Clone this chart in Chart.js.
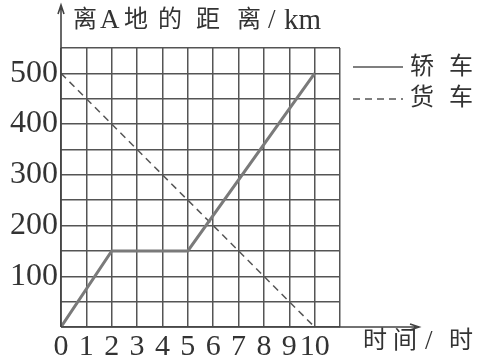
<!DOCTYPE html>
<html>
<head>
<meta charset="utf-8">
<script src="https://cdn.jsdelivr.net/npm/chart.js@4"></script>
<style>
  body { margin: 0; background: #fff; }
</style>
</head>
<body>
<canvas id="chart" width="484" height="363"></canvas>
<script>
// 轿车 / 货车 离A地的距离

// 轿车: 时间(时), 距离(km)
const carTime = [0, 2, 5, 10];
const carDist = [0, 150, 150, 500];
// 货车
const truckTime = [0, 10];
const truckDist = [500, 0];

const yTitle = ['离', 'A', '地', '的', '距', '离', '/', 'km'];
const xTitle = ['时', '间', '/', '时'];
const legendNames = [['轿', '车'], ['货', '车']];

const serif = '"Liberation Serif", "Noto Sans CJK SC", serif';

const toPoints = (xs, ys) => xs.map((x, i) => ({ x: x, y: ys[i] }));

// 坐标轴箭头, 标题, 图例
const decor = {
  id: 'decor',
  afterDraw(chart) {
    const ctx = chart.ctx;
    const a = chart.chartArea;
    ctx.save();
    ctx.strokeStyle = '#444';
    ctx.lineWidth = 1.6;
    // y轴
    ctx.beginPath();
    ctx.moveTo(a.left, a.bottom);
    ctx.lineTo(a.left, 5);
    ctx.moveTo(a.left - 3, 14);
    ctx.lineTo(a.left, 5);
    ctx.lineTo(a.left + 3, 14);
    // x轴
    ctx.moveTo(a.left, a.bottom);
    ctx.lineTo(419, a.bottom);
    ctx.moveTo(410, a.bottom - 3);
    ctx.lineTo(419, a.bottom);
    ctx.lineTo(410, a.bottom + 3);
    ctx.stroke();

    ctx.fillStyle = '#333';
    ctx.textBaseline = 'middle';
    ctx.font = '24px ' + serif;
    // 字的位置 (逐字排)
    const yTitleX = [73, 100, 124, 158, 196, 237, 268, 284];
    yTitle.forEach((t, i) => {
      ctx.font = (t === 'km' ? '29px ' : t === 'A' || t === '/' ? '27px ' : '24px ') + serif;
      ctx.fillText(t, yTitleX[i], 21);
    });
    const xTitleX = [363, 393, 425, 449];
    xTitle.forEach((t, i) => {
      ctx.font = (t === '/' ? '27px ' : '24px ') + serif;
      ctx.fillText(t, xTitleX[i], 342);
    });

    // 图例
    ctx.font = '24px ' + serif;
    legendNames.forEach((n, i) => {
      ctx.fillText(n[0], 410, 68 + i * 31);
      ctx.fillText(n[1], 449, 68 + i * 31);
    });
    ctx.strokeStyle = '#555';
    ctx.lineWidth = 1.6;
    ctx.beginPath();
    ctx.moveTo(353, 67);
    ctx.lineTo(403, 67);
    ctx.stroke();
    ctx.setLineDash([7, 5]);
    ctx.beginPath();
    ctx.moveTo(353, 99);
    ctx.lineTo(403, 99);
    ctx.stroke();
    ctx.restore();
  },
};

new Chart(document.querySelector('#chart'), {
  type: 'line',
  data: {
    datasets: [
      {
        label: '轿车',
        data: toPoints(carTime, carDist),
        borderColor: '#7a7a7a',
        borderWidth: 3,
        pointRadius: 0,
        tension: 0,
      },
      {
        label: '货车',
        data: toPoints(truckTime, truckDist),
        borderColor: '#555',
        borderWidth: 1.5,
        borderDash: [7, 5],
        pointRadius: 0,
        tension: 0,
      },
    ],
  },
  options: {
    responsive: false,
    animation: false,
    events: [],
    layout: { padding: { top: 48, right: 144, left: 0, bottom: 0 } },
    plugins: {
      legend: { display: false },
      tooltip: { enabled: false },
    },
    scales: {
      x: {
        type: 'linear',
        min: 0,
        max: 11,
        border: { display: false },
        grid: { color: '#555', lineWidth: 1.5, drawTicks: false },
        ticks: {
          stepSize: 1,
          padding: 2,
          maxRotation: 0,
          autoSkip: false,
          color: '#333',
          font: { family: serif, size: 30 },
          callback: (v) => (v <= 10 ? v : ''),
        },
        afterFit: (s) => { s.height = 36; },
      },
      y: {
        min: 0,
        max: 550,
        border: { display: false },
        grid: { color: '#555', lineWidth: 1.5, drawTicks: false },
        ticks: {
          stepSize: 50,
          padding: 3,
          autoSkip: false,
          color: '#333',
          font: { family: serif, size: 32 },
          callback: (v) => (v > 0 && v <= 500 && v % 100 === 0 ? v : ''),
        },
        afterFit: (s) => { s.width = 61; },
      },
    },
  },
  plugins: [decor],
});
</script>
</body>
</html>
